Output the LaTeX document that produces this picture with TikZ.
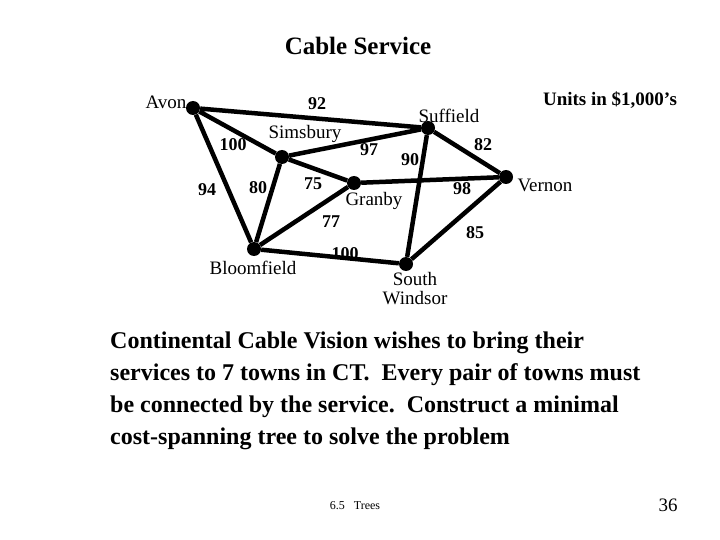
\documentclass[tikz,border=0pt]{standalone}
\usepackage{fontspec}
\setmainfont{Liberation Serif}
\begin{document}
\begin{tikzpicture}[x=1pt,y=-1pt,
  town/.style={circle,fill=black,inner sep=0pt,minimum size=14pt},
  edge/.style={line width=4.5pt},
  lab/.style={font=\fontsize{18}{18}\selectfont\bfseries},
  townname/.style={font=\fontsize{19}{19}\selectfont}]
\useasboundingbox (0,0) rectangle (720,540);
\node[font=\fontsize{25}{25}\selectfont\bfseries] (title) at (358,46) {Cable Service};
\node[town] (av) at (193,108) {};
\node[town] (sf) at (428,128) {};
\node[town] (sb) at (282,157) {};
\node[town] (gr) at (354,183) {};
\node[town] (ve) at (506,177) {};
\node[town] (bl) at (254,249) {};
\node[town] (sw) at (406,264) {};
\draw[edge] (av)--(sf) (av)--(sb) (av)--(bl) (sb)--(sf) (sb)--(bl) (sb)--(gr)
  (gr)--(ve) (sf)--(ve) (sf)--(sw) (gr)--(bl) (bl)--(sw) (sw)--(ve);
\node[townname,anchor=east] (nav) at (190,102) {Avon};
\node[townname] (nsf) at (449,116) {Suffield};
\node[townname] (nsb) at (305,134) {Simsbury};
\node[townname] (ngr) at (374,201) {Granby};
\node[townname,anchor=west] (nve) at (514,185) {Vernon};
\node[townname] (nbl) at (253,268) {Bloomfield};
\node[townname,align=center,inner sep=1pt] (nsw) at (415,289) {South\\Windsor};
\node[lab] (l92) at (317,104) {92};
\node[lab] (l100a) at (233,145) {100};
\node[lab] (l94) at (207,190) {94};
\node[lab] (l80) at (258,188) {80};
\node[lab] (l75) at (313,184) {75};
\node[lab] (l97) at (369,150) {97};
\node[lab] (l90) at (410,160) {90};
\node[lab] (l82) at (483,145) {82};
\node[lab] (l98) at (462,189) {98};
\node[lab] (l77) at (331,222) {77};
\node[lab] (l85) at (475,233) {85};
\node[lab] (l100b) at (345,254) {100};
\node[font=\fontsize{19}{19}\selectfont\bfseries] (units) at (610,100) {Units in \$1,000's};
\node[font=\fontsize{24}{32}\selectfont\bfseries,anchor=north west,align=left,inner sep=0pt] (txt) at (110,332)
 {Continental Cable Vision wishes to bring their\\services to 7 towns in CT.\ \ Every pair of towns must\\be connected by the service.\ \ Construct a minimal\\cost-spanning tree to solve the problem};
\node[font=\fontsize{12}{12}\selectfont] (foot) at (355,506) {6.5\ \ \ Trees};
\node[font=\fontsize{19}{19}\selectfont] (pg) at (668,505) {36};
\end{tikzpicture}
\end{document}
